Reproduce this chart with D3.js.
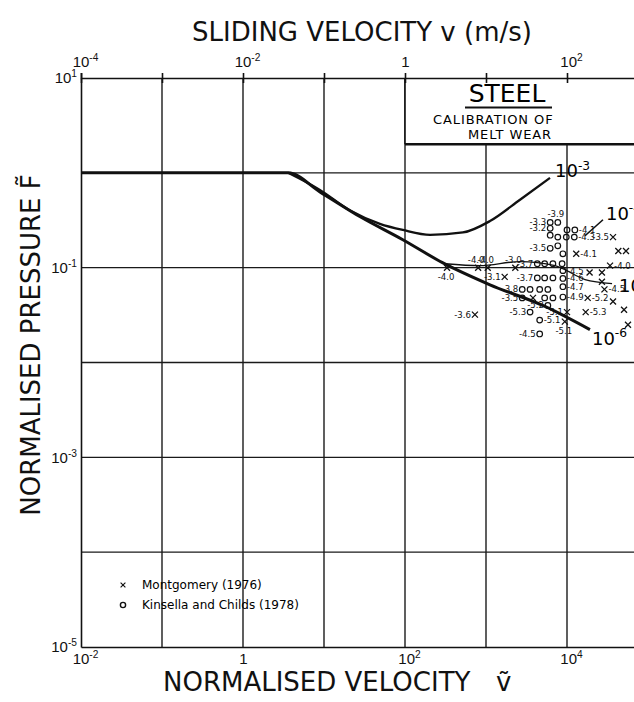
<!DOCTYPE html>
<html>
<head>
<meta charset="utf-8">
<script src="https://cdn.jsdelivr.net/npm/d3@7"></script>
<style>
  body { margin: 0; background: #fff; }
  svg { display: block; font-family: 'DejaVu Sans', sans-serif; }
  .grid line { stroke: #1a1a1a; stroke-width: 1.4; }
  .curve { fill: none; stroke: #111; }
  .axis path, .axis line { stroke: #111; stroke-width: 1.6; }
  .axis text { font-size: 15px; fill: #111; }
  .ann { font-size: 9.5px; font-family: 'DejaVu Sans Condensed', 'DejaVu Sans', sans-serif; fill: #111; }
  .title { font-size: 26px; fill: #111; }
</style>
</head>
<body>
<svg width="634" height="702"></svg>
<script>
// decades for grid and ticks
var xDecades = [1e-1, 1, 10, 1e2, 1e3, 1e4, 1e5];
var bottomTicks = [1e-2, 1, 1e2, 1e4];
var topDecades = [1e-4, 1e-3, 1e-2, 1e-1, 1, 10, 1e2, 1e3];
var topLabels = [1e-4, 1e-2, 1, 1e2];          // sliding velocity v (m/s)
var yDecades = [1, 1e-1, 1e-2, 1e-3, 1e-4];
var leftTicks = [10, 1e-1, 1e-3, 1e-5];

// flat part + lower envelope (ends at the 10^-6 label)
var envV = [0.01, 3.6, 8.9, 28, 94, 290, 1120, 5350, 19200];
var envF = [1, 1, 0.63, 0.344, 0.197, 0.113, 0.066, 0.039, 0.0222];
// wear rate contours
var c3V = [3.6, 8.9, 21, 49, 94, 204, 520, 1120, 2630, 6170];
var c3F = [1, 0.66, 0.40, 0.29, 0.25, 0.222, 0.235, 0.31, 0.52, 0.885];
var c4V = [16700, 27800];
var c4F = [0.217, 0.32];
var c5V = [312, 843, 2630, 7110, 16700, 36000];
var c5F = [0.11, 0.105, 0.116, 0.105, 0.075, 0.068];

// Kinsella and Childs (o)
var kV = [6200, 6200, 7700, 6200, 10000, 12500, 7700, 9800, 12300, 6200, 7700, 8900, 4300, 5300, 6700, 8700, 8900,
          4300, 5300, 6700, 8900, 8900, 2800, 3500, 4600, 5800, 2800, 5300, 6700, 8900, 3500, 4600, 4600, 5800];
var kF = [0.30, 0.26, 0.30, 0.22, 0.25, 0.25, 0.21, 0.21, 0.21, 0.16, 0.17, 0.14, 0.11, 0.11, 0.11, 0.11, 0.093,
          0.078, 0.078, 0.078, 0.077, 0.063, 0.059, 0.059, 0.059, 0.059, 0.048, 0.048, 0.048, 0.049, 0.034, 0.028, 0.020, 0.040];
var kLabel = ['-3.3','-3.2','-3.9','','','-4.1','','','-4.3','-3.5','','','-3.7','','','','-4.5',
              '-3.7','','','-4.6','-4.7','-3.8','','','','-3.5','','','-4.9','-5.3','-5.1','-4.5','-5.2'];
var kSide = ['l','l','a','','','r','','','r','l','','','l','','','','r',
             'l','','','r','r','l','','','','l','','','r','l','r','l','l'];

// Montgomery (x)
var mV = [330, 800, 1050, 1700, 2300, 730, 3800, 13000, 19000, 37000, 27000, 27000, 34000, 29000, 18000, 37000,
          10000, 17000, 9400, 43000, 53500, 50600, 56600];
var mF = [0.10, 0.10, 0.10, 0.080, 0.10, 0.032, 0.048, 0.14, 0.089, 0.21, 0.089, 0.071, 0.105, 0.059, 0.048, 0.044,
          0.034, 0.034, 0.027, 0.15, 0.15, 0.036, 0.025];
var mLabel = ['-4.0','-4.0','-4.0','-3.1','-3.0','-3.6','','-4.1','','-3.5','','','-4.0','-4.5','-5.2','',
              '-5.1','-5.3','-5.1','','','',''];
var mSide = ['b','a','a','l','a','l','','r','','l','','','r','r','r','','l','r','b','','','',''];

var svg = d3.select('svg');
var plotLeft = 81, plotTop = 78, plotBottom = 647, plotRight = 648;

var x = d3.scaleLog().domain([1e-2, 1e5]).range([plotLeft, plotRight]);
var xTop = d3.scaleLog().domain([1e-4, 1e3]).range([plotLeft, plotRight]);
var y = d3.scaleLog().domain([1e-5, 10]).range([plotBottom, plotTop]);

// writes 10^n as "10" with a raised exponent, plain "1" for 10^0
function pow10(text, d) {
  var e = Math.round(Math.log10(d));
  text.text(null);
  if (e === 0) { text.text('1'); return; }
  text.append('tspan').text('10');
  text.append('tspan').attr('dy', '-0.6em').attr('font-size', '0.68em').text(e);
}

// grid
var grid = svg.append('g').attr('class', 'grid');
grid.selectAll('.vx').data(xDecades).enter().append('line')
    .attr('x1', function(d) { return x(d); }).attr('x2', function(d) { return x(d); })
    .attr('y1', plotTop).attr('y2', plotBottom);
grid.selectAll('.hy').data(yDecades).enter().append('line')
    .attr('x1', plotLeft).attr('x2', plotRight)
    .attr('y1', function(d) { return y(d); }).attr('y2', function(d) { return y(d); });

// title box
var boxX = x(1e2), boxY = y(2);
svg.append('rect').attr('x', boxX).attr('y', plotTop).attr('width', plotRight - boxX).attr('height', boxY - plotTop)
    .attr('fill', '#fff');
svg.append('line').attr('x1', boxX).attr('x2', plotRight).attr('y1', boxY).attr('y2', boxY)
    .attr('stroke', '#111').attr('stroke-width', 2.4);
svg.append('line').attr('x1', boxX).attr('x2', boxX).attr('y1', plotTop).attr('y2', boxY)
    .attr('stroke', '#111').attr('stroke-width', 1.6);
svg.append('text').attr('x', 507).attr('y', 102).attr('text-anchor', 'middle')
    .attr('font-size', 25).text('STEEL');
svg.append('line').attr('x1', 465).attr('x2', 552).attr('y1', 107.5).attr('y2', 107.5)
    .attr('stroke', '#111').attr('stroke-width', 2.2);
svg.append('text').attr('x', 433).attr('y', 124).attr('font-size', 13).attr('letter-spacing', 0.9)
    .text('CALIBRATION  OF');
svg.append('text').attr('x', 468).attr('y', 139).attr('font-size', 13).attr('letter-spacing', 0.9)
    .text('MELT WEAR');

// axes
var topAxis = svg.append('g').attr('class', 'axis').attr('transform', 'translate(0,' + plotTop + ')')
    .call(d3.axisTop(xTop).tickValues(topDecades).tickSizeOuter(0).tickSize(5).tickPadding(6).tickFormat(''));
topAxis.selectAll('.tick line').attr('y2', -5).attr('y1', 5);
topAxis.selectAll('.tick text').each(function(d) {
  if (topLabels.indexOf(d) >= 0) pow10(d3.select(this), d);
}).attr('dx', function(d) { return d === 1 ? 0 : 4; });

var bottomAxis = svg.append('g').attr('class', 'axis').attr('transform', 'translate(0,' + plotBottom + ')')
    .call(d3.axisBottom(x).tickValues(bottomTicks).tickSize(0).tickSizeOuter(0).tickPadding(6).tickFormat(''));
bottomAxis.selectAll('.tick text').each(function(d) { pow10(d3.select(this), d); })
    .attr('dx', function(d) { return d === 1 ? 0 : 4; });

var leftAxis = svg.append('g').attr('class', 'axis').attr('transform', 'translate(' + plotLeft + ',0)')
    .call(d3.axisLeft(y).tickValues(leftTicks).tickSize(0).tickSizeOuter(0).tickPadding(4).tickFormat(''));
leftAxis.selectAll('.tick text').each(function(d) { pow10(d3.select(this), d); });

// curves
var line = d3.line()
    .x(function(d) { return x(d[0]); })
    .y(function(d) { return y(d[1]); })
    .curve(d3.curveMonotoneX);
function pairs(vs, fs) { return vs.map(function(v, i) { return [v, fs[i]]; }); }

svg.append('path').attr('class', 'curve').attr('stroke-width', 3).attr('d', line(pairs(envV, envF)));
svg.append('path').attr('class', 'curve').attr('stroke-width', 2.3).attr('d', line(pairs(c3V, c3F)));
svg.append('path').attr('class', 'curve').attr('stroke-width', 1.6).attr('d', line(pairs(c4V, c4F)));
svg.append('path').attr('class', 'curve').attr('stroke-width', 1.3).attr('d', line(pairs(c5V, c5F)));

// contour labels next to the curve ends
function contourLabel(v, f, e, dx, dy) {
  var t = svg.append('text').attr('x', x(v) + dx).attr('y', y(f) + dy).attr('font-size', 18);
  pow10(t, Math.pow(10, e));
}
contourLabel(c3V[c3V.length - 1], c3F[c3F.length - 1], -3, 5, -1);
contourLabel(c4V[c4V.length - 1], c4F[c4F.length - 1], -4, 3, 0);
contourLabel(c5V[c5V.length - 1], c5F[c5F.length - 1], -5, 7, 8);
contourLabel(envV[envV.length - 1], envF[envF.length - 1], -6, 2, 15);

// data points
function annotate(px, py, label, side) {
  if (!label) return;
  var t = svg.append('text').attr('class', 'ann').text(label);
  if (side === 'l') t.attr('x', px - 4).attr('y', py + 3).attr('text-anchor', 'end');
  if (side === 'r') t.attr('x', px + 4).attr('y', py + 3);
  if (side === 'a') t.attr('x', px - 2).attr('y', py - 5).attr('text-anchor', 'middle');
  if (side === 'b') t.attr('x', px - 1).attr('y', py + 12).attr('text-anchor', 'middle');
}

kV.forEach(function(v, i) {
  var px = x(v), py = y(kF[i]);
  svg.append('circle').attr('cx', px).attr('cy', py).attr('r', 2.8)
      .attr('fill', 'none').attr('stroke', '#111').attr('stroke-width', 1.2);
  annotate(px, py, kLabel[i], kSide[i]);
});

var cross = 'M-3,-3L3,3M-3,3L3,-3';
mV.forEach(function(v, i) {
  var px = x(v), py = y(mF[i]);
  svg.append('path').attr('d', cross).attr('transform', 'translate(' + px + ',' + py + ')')
      .attr('stroke', '#111').attr('stroke-width', 1.3);
  annotate(px, py, mLabel[i], mSide[i]);
});

// legend
svg.append('path').attr('d', cross).attr('transform', 'translate(123,585) scale(0.8)')
    .attr('stroke', '#111').attr('stroke-width', 1.4);
svg.append('text').attr('x', 142).attr('y', 589).attr('font-size', 12).text('Montgomery (1976)');
svg.append('circle').attr('cx', 123).attr('cy', 605).attr('r', 2.6)
    .attr('fill', 'none').attr('stroke', '#111').attr('stroke-width', 1.4);
svg.append('text').attr('x', 142).attr('y', 609).attr('font-size', 12).text('Kinsella and Childs (1978)');

// axis titles
svg.append('text').attr('class', 'title').attr('x', 362).attr('y', 41).attr('text-anchor', 'middle')
    .text('SLIDING VELOCITY  v (m/s)');
svg.append('text').attr('class', 'title').attr('x', 163).attr('y', 691)
    .text('NORMALISED VELOCITY');
svg.append('text').attr('class', 'title').attr('x', 496).attr('y', 691).text('\u1E7D');
svg.append('text').attr('class', 'title').attr('transform', 'translate(40,345) rotate(-90)')
    .attr('text-anchor', 'middle').text('NORMALISED PRESSURE  F\u0303');
</script>
</body>
</html>
